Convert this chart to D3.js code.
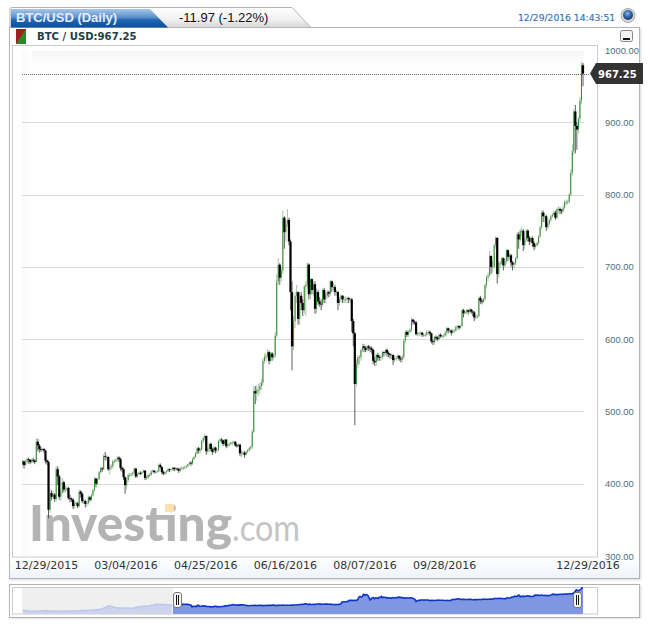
<!DOCTYPE html>
<html><head><meta charset="utf-8">
<script src="https://cdn.jsdelivr.net/npm/d3@7/dist/d3.min.js"></script>
<style>html,body{margin:0;padding:0;background:#fff}svg{display:block}</style>
</head><body><svg id="c" width="650" height="627"></svg>
<script>
const title = "BTC/USD (Daily)";
const changeText = "-11.97 (-1.22%)";
const timestamp = "12/29/2016 14:43:51";
const legendText = "BTC / USD:967.25";
const lastPrice = 967.25;
const firstOpen = 427;
const startDate = "2015-12-29";
const tickDates = ["2015-12-29","2016-03-04","2016-04-25","2016-06-16","2016-08-07","2016-09-28","2016-12-29"];
const priceTicks = [300,400,500,600,700,800,900,1000];
const closes = [431,426,430,
434,433,430,433,432,430,458,453,448,447,448,446,432,430,364,387,382,385,379,420,410,382,388,402,392,392,394,380,379,378,369,
373,373,369,389,386,376,376,372,373,381,378,384,391,407,400,406,416,421,420,438,437,437,420,423,424,431,431,433,436,
434,422,420,409,398,405,412,412,413,415,421,410,413,415,414,416,418,408,408,412,412,417,418,416,416,417,426,423,416,414,416,
417,420,419,420,422,420,421,420,418,421,422,422,423,424,427,429,428,434,437,442,449,446,447,459,463,466,445,448,455,448,
444,450,446,447,459,461,460,455,461,452,454,455,457,457,458,453,452,454,442,443,443,440,444,446,449,451,472,528,525,530,530,
535,540,570,575,577,582,570,580,575,577,605,680,703,685,695,768,748,760,765,735,665,590,625,660,665,628,660,650,640,673,
675,703,662,683,668,676,642,665,652,649,648,668,655,660,665,663,680,672,672,665,665,650,655,660,655,655,655,657,655,655,625,
608,538,565,575,575,585,590,588,585,590,588,587,585,570,568,578,575,574,575,582,581,585,581,579,578,578,571,574,574,577,573,
572,575,598,610,606,610,613,627,624,623,607,608,608,609,606,606,606,610,610,608,597,596,603,602,600,606,604,604,605,609,
615,612,612,609,612,612,617,618,616,618,640,636,637,640,638,641,638,637,630,631,632,657,653,652,655,675,685,688,715,700,700,
730,740,690,705,705,712,702,708,723,714,716,706,703,705,712,745,738,750,750,730,738,750,740,735,740,733,728,730,733,742,
755,775,770,770,755,760,765,770,772,775,768,780,780,778,777,782,790,790,790,800,830,860,915,895,890,905,930,979,967.25];
const highs = [433,432,433,
436,436,434,435,436,434,463,462,455,451,450,449,447,434,432,392,391,390,387,424,424,412,392,408,404,398,397,396,385,381,380,
376,376,375,392,391,388,379,378,376,384,383,386,393,409,408,408,418,424,423,441,444,440,438,426,427,433,434,435,438,
438,436,424,422,410,408,415,415,415,417,423,421,416,417,417,418,420,419,411,414,415,419,420,419,418,419,428,428,424,418,418,
419,422,421,422,424,423,423,422,422,423,424,424,425,426,428,431,431,436,439,444,451,451,450,461,465,469,467,450,456,457,
450,452,451,449,461,463,463,461,462,462,456,457,458,459,460,459,455,456,455,446,445,445,446,448,451,453,475,535,535,536,538,
540,545,574,580,581,586,584,582,582,580,610,690,712,705,700,778,770,765,780,768,738,680,632,665,675,666,665,665,655,675,
680,706,705,685,684,680,680,670,668,658,655,670,671,664,668,667,682,681,678,675,668,667,658,662,661,659,659,659,658,657,657,
628,610,572,578,578,587,594,593,590,592,592,590,590,587,575,580,581,578,578,584,583,587,587,583,581,580,579,576,577,579,578,
576,578,600,612,612,612,615,630,628,626,625,610,610,611,610,608,608,612,612,612,609,599,605,605,604,608,608,606,607,611,
617,616,614,613,614,614,619,620,619,620,642,642,639,642,641,643,642,640,639,634,634,659,660,655,657,677,688,692,722,716,708,
732,742,741,708,708,714,713,711,725,724,719,718,708,707,714,748,748,752,755,752,740,752,752,743,742,742,736,732,735,744,
757,778,778,775,772,762,767,772,775,778,778,782,784,782,780,785,792,793,793,802,835,870,918,924,900,908,935,984,982];
const lows = [424,421,424,
427,428,427,428,429,427,430,445,443,444,445,443,428,426,352,360,377,379,375,376,398,378,376,386,388,388,390,378,374,375,365,
366,370,366,367,381,373,372,367,368,371,375,376,382,389,395,398,405,414,416,419,432,433,418,412,419,421,428,430,431,
430,418,416,405,386,392,402,409,410,411,414,408,408,412,412,413,415,405,405,407,409,411,415,414,414,415,416,421,413,412,412,
413,416,416,417,418,417,418,418,415,416,419,419,420,421,423,426,425,426,433,436,440,442,442,446,456,460,440,442,444,445,
440,443,442,443,445,456,456,452,453,449,450,451,453,453,455,451,450,451,438,437,439,436,439,442,445,447,448,470,510,515,522,
525,530,536,566,570,573,565,568,570,572,574,602,675,675,680,690,725,735,755,730,640,557,585,615,650,620,620,640,632,635,
632,670,655,655,662,660,635,636,647,645,640,645,650,650,657,658,660,665,668,660,660,640,646,651,650,650,650,650,650,650,610,
590,481,535,560,565,570,582,582,582,583,584,582,580,565,563,563,570,570,570,572,576,578,576,575,573,572,564,568,570,572,570,
568,568,572,595,603,603,608,610,620,620,605,604,604,605,603,603,603,604,606,605,594,592,592,598,598,598,602,601,602,603,
605,608,609,605,607,609,610,614,613,614,616,630,634,635,634,636,635,632,625,627,628,630,649,648,650,653,670,680,687,690,692,
698,725,677,685,698,702,695,700,705,708,710,700,695,698,702,710,725,735,742,722,725,735,735,730,732,728,723,725,728,730,
740,752,762,762,750,752,757,762,768,770,765,766,775,773,773,775,780,785,786,788,798,826,855,857,862,885,900,925,950];
const navHistoryDates = ["2015-08-17","2015-08-24","2015-08-31","2015-09-07","2015-09-14","2015-09-21","2015-09-28","2015-10-05","2015-10-12","2015-10-19","2015-10-26","2015-11-02","2015-11-09","2015-11-16","2015-11-23","2015-11-30","2015-12-07","2015-12-14","2015-12-21","2015-12-28"];
const navHistoryValues = [258,225,230,240,230,230,238,240,250,265,290,400,335,330,325,380,395,450,440,425];

const svg = d3.select("#c");
const parse = d3.utcParse("%Y-%m-%d");
const start = parse(startDate);
const candles = closes.map((c,i)=>({date:d3.utcDay.offset(start,i),open:i?closes[i-1]:firstOpen,close:c,high:highs[i],low:lows[i]}));
const sansF = "'Liberation Sans',Arial,sans-serif", dejaF = "'DejaVu Sans',Verdana,sans-serif";

const defs = svg.append("defs");
function grad(id,stops,h){const g=defs.append("linearGradient").attr("id",id).attr("x1",0).attr("y1",0).attr("x2",h?1:0).attr("y2",h?0:1);
 stops.forEach(s=>g.append("stop").attr("offset",s[0]).attr("stop-color",s[1]));}
grad("blueTab",[[0,"#a6c6e8"],[0.45,"#5b90cc"],[0.6,"#1f65b0"],[1,"#0b4f9f"]]);
grad("greyTab",[[0,"#ffffff"],[0.6,"#f0f0f0"],[1,"#d6d6d6"]]);
grad("topFade",[[0,"#f6f6f6"],[1,"#ffffff"]]);
grad("leftFade",[[0,"#fafafa"],[1,"#ffffff"]],true);
grad("footFade",[[0,"#ffffff"],[1,"#eef4fb"]]);
const rg = defs.append("radialGradient").attr("id","globe").attr("cx","45%").attr("cy","35%").attr("r","65%");
[[0,"#8fb4e6"],[0.55,"#2f62a8"],[1,"#16396f"]].forEach(s=>rg.append("stop").attr("offset",s[0]).attr("stop-color",s[1]));
const fl = defs.append("filter").attr("id","sh").attr("x","-2%").attr("y","-2%").attr("width","104%").attr("height","104%");
fl.append("feDropShadow").attr("dx",1).attr("dy",1).attr("stdDeviation",1).attr("flood-color","#000").attr("flood-opacity",0.15);

// Panel chrome
svg.append("rect").attr("x",9.5).attr("y",27.5).attr("width",630).attr("height",551).attr("fill","#fff").attr("stroke","#b4b4b4").attr("filter","url(#sh)");
svg.append("rect").attr("x",10).attr("y",557).attr("width",629).attr("height",21).attr("fill","url(#footFade)");
svg.append("path").attr("d","M10,27.5 V9 Q10,7.5 12,7.5 H292 L311,27.5 Z").attr("fill","url(#greyTab)").attr("stroke","#b4b4b4");
svg.append("path").attr("d","M11,27.5 V9 H150 L168,27.5 Z").attr("fill","url(#blueTab)");
svg.append("text").attr("x",16).attr("y",22).attr("font-family",sansF).attr("font-weight","bold").attr("font-size",13).attr("fill","#e4edf7").text(title);
svg.append("text").attr("x",179).attr("y",22).attr("font-family",sansF).attr("font-size",13).attr("fill","#111").text(changeText);
svg.append("text").attr("x",518).attr("y",21).attr("font-family",dejaF).attr("font-size",9.2).attr("stroke","#2f74b5").attr("stroke-width",0.15).attr("fill","#2f74b5").text(timestamp);
svg.append("circle").attr("cx",628).attr("cy",15.5).attr("r",7).attr("fill","#d8d8d8").attr("stroke","#aaa");
svg.append("circle").attr("cx",628).attr("cy",15).attr("r",5).attr("fill","url(#globe)");

// Legend row
svg.append("rect").attr("x",16).attr("y",29).attr("width",10).attr("height",15).attr("fill","#2a8a2a");
svg.append("path").attr("d","M16,29 H26 L16,44 Z").attr("fill","#a02020");
svg.append("text").attr("x",37).attr("y",40).attr("font-family",dejaF).attr("font-weight","bold").attr("font-size",10.1).attr("fill","#20404a").text(legendText);
svg.append("rect").attr("x",620.5).attr("y",30.5).attr("width",12).attr("height",11).attr("rx",2).attr("fill","#f4f4f4").attr("stroke","#888");
svg.append("rect").attr("x",623).attr("y",38).attr("width",7).attr("height",2).attr("fill","#111");

// Plot frame
svg.append("rect").attr("x",12.5).attr("y",45.5).attr("width",585).attr("height",511.5).attr("fill","#fff").attr("stroke","#ccc");

// Scales
const x = d3.scaleUtc().domain([start,candles[candles.length-1].date]).range([22.5,583]);
const y = d3.scaleLinear().domain([300,1000]).range([556,50]);
svg.append("rect").attr("x",22).attr("y",51).attr("width",562).attr("height",16).attr("fill","url(#topFade)");
svg.append("rect").attr("x",22).attr("y",51).attr("width",10).attr("height",505).attr("fill","url(#leftFade)");

// Grid
svg.append("g").selectAll("line").data(priceTicks.filter(t=>t>300&&t<1000)).join("line")
 .attr("x1",22).attr("x2",584).attr("y1",d=>Math.round(y(d))+.5).attr("y2",d=>Math.round(y(d))+.5).attr("stroke","#d9d9d9");

// Watermark
const wm = svg.append("g");
wm.append("text").attr("x",29).attr("y",541).attr("font-family","Lato,'Open Sans',sans-serif").attr("font-weight","900").attr("font-size",50)
 .attr("textLength",203).attr("lengthAdjust","spacingAndGlyphs").attr("fill","#b4b4b4").text("Investing");
wm.append("rect").attr("x",165).attr("y",504).attr("width",9).attr("height",8).attr("fill","#fbe0b0");
wm.append("text").attr("x",232).attr("y",541).attr("font-family","Lato,'Open Sans',sans-serif").attr("font-size",36)
 .attr("textLength",68).attr("lengthAdjust","spacingAndGlyphs").attr("fill","#c4c4c4").text(".com");

// Candles
const gc = svg.append("g");
gc.selectAll("line.w").data(candles).join("line").attr("class","w")
 .attr("x1",d=>x(d.date)).attr("x2",d=>x(d.date)).attr("y1",d=>y(d.high)).attr("y2",d=>y(d.low))
 .attr("stroke",d=>d.close>=d.open?"#9ab09a":"#333").attr("stroke-width",0.8);
gc.selectAll("rect.b").data(candles).join("rect").attr("class","b")
 .attr("x",d=>x(d.date)-(d.close>=d.open?0.5:1.1)).attr("width",d=>d.close>=d.open?1:2.2)
 .attr("y",d=>y(Math.max(d.open,d.close))).attr("height",d=>Math.max(0.8,Math.abs(y(d.open)-y(d.close))))
 .attr("fill",d=>d.close>=d.open?"#2f8f2f":"#000");

// Last price
svg.append("line").attr("x1",22).attr("x2",590).attr("y1",Math.round(y(lastPrice))+.5).attr("y2",Math.round(y(lastPrice))+.5)
 .attr("stroke","#666").attr("stroke-dasharray","1,1");
const ly = Math.round(y(lastPrice))-0.5;
svg.append("path").attr("d",d3.line()([[590,ly],[596,ly-10.5],[643,ly-10.5],[643,ly+10.5],[596,ly+10.5]])+"Z").attr("fill","#333");
svg.append("text").attr("x",598).attr("y",ly+4).attr("font-family",dejaF).attr("font-weight","bold").attr("font-size",10).attr("fill","#fff").text(lastPrice.toFixed(2));

// Axes
const ya = svg.append("g").attr("transform","translate(605,0)").call(d3.axisRight(y).tickValues(priceTicks).tickSize(0).tickPadding(0).tickFormat(d3.format(".2f")));
ya.select(".domain").remove();
ya.selectAll("text").attr("font-family",sansF).attr("font-size",9.4).attr("fill","#4d6f7c");
const xa = svg.append("g").attr("transform","translate(0,559)").call(d3.axisBottom(x).tickValues(tickDates.map(parse)).tickSize(0).tickPadding(2).tickFormat(d3.utcFormat("%m/%d/%Y")));
xa.select(".domain").remove();
xa.selectAll("text").attr("font-family",dejaF).attr("font-size",11).attr("fill","#333");
xa.selectAll("text").attr("dx",(d,i,n)=>i===0?"23.5":(i===n.length-1?"4.5":"2"));

// Navigator
svg.append("rect").attr("x",9.5).attr("y",584.5).attr("width",630).attr("height",33).attr("fill","#fff").attr("stroke","#b4b4b4").attr("filter","url(#sh)");
svg.append("rect").attr("x",12.5).attr("y",587.5).attr("width",585).attr("height",26.5).attr("fill","#fff").attr("stroke","#ccc");
const nx = d3.scaleUtc().domain([start,candles[candles.length-1].date]).range([173,583]);
const ny = d3.scaleLinear().domain([0,1000]).range([618.3,587.2]);
const base = 614;
svg.append("rect").attr("x",22).attr("y",588).attr("width",151).attr("height",26).attr("fill","#efefef");
const hist = navHistoryDates.map((d,i)=>({date:parse(d),v:navHistoryValues[i]}));
const sel = candles.map(d=>({date:d.date,v:d.close}));
const area = d3.area().x(d=>nx(d.date)).y0(base).y1(d=>ny(d.v));
const line = d3.line().x(d=>nx(d.date)).y(d=>ny(d.v));
svg.append("path").datum(hist).attr("d",area).attr("fill","#ccd4ee");
svg.append("path").datum(hist).attr("d",line).attr("fill","none").attr("stroke","#bcc8ea").attr("stroke-width",1.5);
svg.append("path").datum(sel).attr("d",area).attr("fill","#7f97e2");
svg.append("path").datum(sel).attr("d",line).attr("fill","none").attr("stroke","#0b36c2").attr("stroke-width",1.6);
[178,578].forEach(h=>{
 svg.append("rect").attr("x",h-4.5).attr("y",592.5).attr("width",8).attr("height",15).attr("rx",2.5).attr("fill","#f4f4f4").attr("stroke","#777");
 [-1.5,0.5].forEach(o=>svg.append("rect").attr("x",h+o-0.5).attr("y",595).attr("width",1).attr("height",10).attr("fill","#111"));
});
</script></body></html>
